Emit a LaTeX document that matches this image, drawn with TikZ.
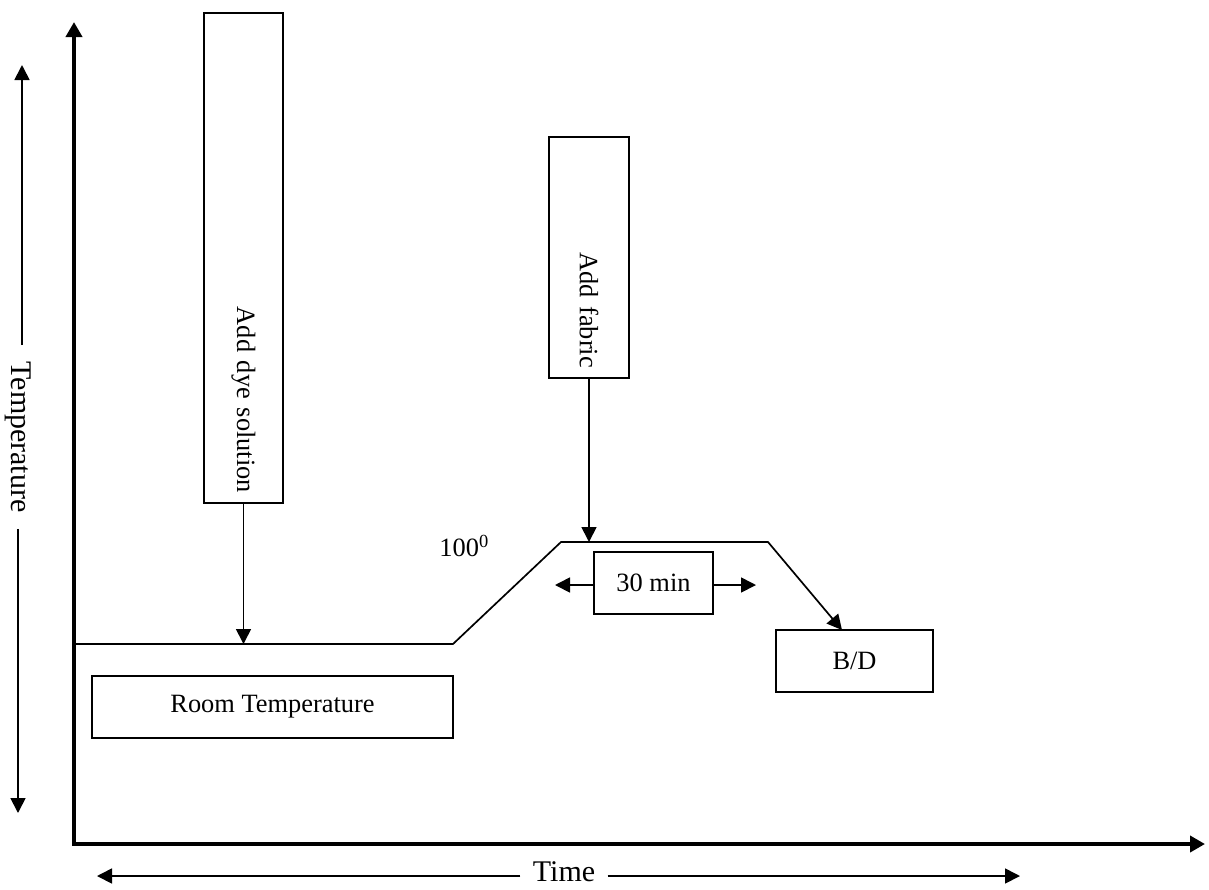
\documentclass[tikz,border=0pt]{standalone}
\usepackage{fontspec}
\setmainfont{Liberation Serif}
\usetikzlibrary{arrows.meta}
\begin{document}
\begin{tikzpicture}[x=0.5pt,y=-0.5pt,
  box/.style={draw, line width=0.9pt, inner sep=0pt, font=\fontsize{13.2}{15}\selectfont},
  thinline/.style={line width=0.85pt},
  arr/.style={thinline, -{Triangle[length=7.5pt,width=7.5pt]}},
  axisline/.style={line width=2pt, {Triangle[length=7.5pt,width=8pt]}-{Triangle[length=7.5pt,width=8pt]}},
  lbl/.style={font=\fontsize{15}{18}\selectfont}]
\useasboundingbox (0,0) rectangle (1209,889);

% axes
\coordinate (O) at (74,844);
\coordinate (Ytop) at (74,22);
\coordinate (Xend) at (1205,844);
\draw[axisline] (Ytop) -- (O) -- (Xend);

% temperature label with arrows
\node[lbl, rotate=-90, inner xsep=8pt, inner ysep=0pt] (temp) at (18,437) {Temperature};
\coordinate (tU) at (22,65);
\coordinate (tD) at (18,813);
\draw[arr] (temp.west -| tU) -- (tU);
\draw[arr] (temp.east -| tD) -- (tD);

% time label with arrows
\node[lbl, inner xsep=6pt, inner ysep=0pt] (time) at (564,872) {Time};
\coordinate (tL) at (97,876);
\coordinate (tR) at (1020,876);
\draw[arr] (time.west |- tL) -- (tL);
\draw[arr] (time.east |- tR) -- (tR);

% profile line
\coordinate (p0) at (74,644);
\coordinate (p1) at (453,644);
\coordinate (p2) at (561,542);
\coordinate (p3) at (768,542);
\coordinate (bdT) at (842,630);

% boxes
\node[box, rotate=-90, minimum height=39.5pt, text width=235pt, align=right, inner xsep=5pt] (dye) at (243.5,258) {Add dye solution};
\node[box, rotate=-90, minimum height=40pt, text width=110.5pt, align=right, inner xsep=5pt] (fab) at (589,257.5) {Add fabric};
\node[box, minimum width=59.5pt, minimum height=31pt] (min) at (653.5,583) {30 min};
\node[box, minimum width=78.5pt, minimum height=31pt] (bd) at (854.5,661) {B/D};
\node[box, minimum width=180.5pt, minimum height=31pt] (room) at (272.5,707) {Room Temperature};
\node[font=\fontsize{13.2}{15}\selectfont, anchor=base west, inner sep=0pt] (hund) at (439,556) {100\textsuperscript{0}};

\draw[arr] (p0) -- (p1) -- (p2) -- (p3) -- (bdT);
\draw[arr] (dye.east) -- (dye.east |- p0);
\draw[arr] (fab.east) -- (fab.east |- p2);

\coordinate (mL) at (555,585);
\coordinate (mR) at (756,585);
\draw[arr] (min.west |- mL) -- (mL);
\draw[arr] (min.east |- mR) -- (mR);
\end{tikzpicture}
\end{document}
